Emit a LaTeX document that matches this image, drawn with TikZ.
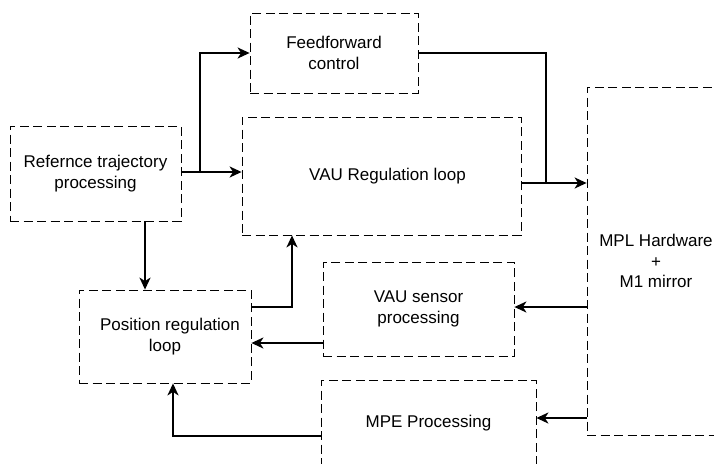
\documentclass[tikz,border=0pt]{standalone}
\usepackage{fontspec}
\setmainfont{Liberation Sans}
\usepackage{tikz}
\usetikzlibrary{arrows.meta,positioning}

\begin{document}
\begin{tikzpicture}[
  x=1pt, y=-1pt,
  blockbox/.style={draw, dash pattern=on 9pt off 4.5pt, line width=0.8pt,
                   inner sep=0pt, align=center,
                   font=\fontsize{17}{20.5}\selectfont},
  flow/.style={line width=1.9pt, -{Stealth[length=12pt,width=11pt,inset=3.5pt]}},
  plain/.style={line width=1.9pt}
]
\useasboundingbox (0,0) rectangle (714,463);
\clip (0,0) rectangle (714,463);

% blocks
\node[blockbox, minimum width=171pt, minimum height=95pt] (ref) at (95.5,173.5)
  {Refernce trajectory\\processing};
\node[blockbox, minimum width=168pt, minimum height=80pt] (ff) at (334,53)
  {Feedforward\\control};
\node[blockbox, minimum width=279pt, minimum height=118pt] (vaureg) at (381.5,176)
  {\hspace{12pt}VAU Regulation loop};
\node[blockbox, minimum width=172pt, minimum height=93pt] (pos) at (165,336.5)
  {\hspace{10pt}Position regulation\\loop};
\node[blockbox, minimum width=191pt, minimum height=94pt] (sensor) at (418.5,309)
  {VAU sensor\\processing};
\node[blockbox, minimum width=215pt, minimum height=86pt] (mpe) at (428.5,423)
  {MPE Processing};
\node[blockbox, minimum width=138pt, minimum height=348pt] (mpl) at (656,261)
  {MPL Hardware\\+\\M1 mirror};

% helper points
\coordinate (split) at (200,172);
\coordinate (join) at (546,183);
\coordinate (up) at (292,307);
\coordinate (back) at (251,343);
\coordinate (fbtop) at (587,307);
\coordinate (fbbot) at (587,418);
\coordinate (mpeout) at (173,436);

% connectors
\draw[flow] (ref.east |- split) -- (vaureg.west |- split);
\draw[flow] (split) |- (ff.west);
\draw[plain] (ff.east) -| (join);
\draw[plain] (vaureg.east |- join) -- (join);
\draw[flow] (join) -- (mpl.west |- join);
\draw[flow] (ref.south -| 145,0) -- (pos.north -| 145,0);
\draw[flow] (pos.east |- up) -| (vaureg.south -| up);
\draw[flow] (sensor.west |- back) -- (pos.east |- back);
\draw[flow] (mpl.west |- fbtop) -- (sensor.east |- fbtop);
\draw[flow] (mpl.west |- fbbot) -- (mpe.east |- fbbot);
\draw[flow] (mpe.west |- mpeout) -| (pos.south -| mpeout);
\end{tikzpicture}
\end{document}
